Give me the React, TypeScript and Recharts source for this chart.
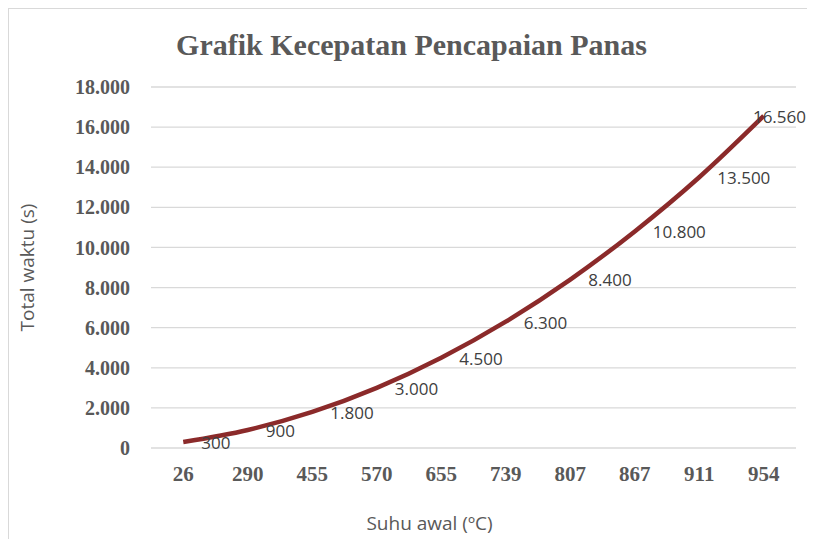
import React from "react";
import { LineChart, Line, XAxis, YAxis, CartesianGrid, LabelList, Label } from "recharts";

const categories = ["26", "290", "455", "570", "655", "739", "807", "867", "911", "954"];
const totalWaktu = [300, 900, 1800, 3000, 4500, 6300, 8400, 10800, 13500, 16560];
const yTicks = [0, 2000, 4000, 6000, 8000, 10000, 12000, 14000, 16000, 18000];

const data = categories.map((c, i) => ({ suhu: c, waktu: totalWaktu[i] }));

const fmt = (v: number) => v.toLocaleString("de-DE");

const CHART_W = 798;
const CHART_H = 530;

const DataLabel = (props: any) => {
  const { x, y, value } = props;
  const text = fmt(Number(value));
  const estW = text.length * 9;
  const limit = CHART_W - 1;
  let tx = x + 18;
  let anchor: "start" | "end" = "start";
  if (tx + estW > limit) {
    tx = limit;
    anchor = "end";
  }
  return (
    <text
      x={tx}
      y={y + 1}
      dy="0.35em"
      textAnchor={anchor}
      fontFamily="'Open Sans', sans-serif"
      fontSize={17}
      fill="#404040"
    >
      {text}
    </text>
  );
};

export default function App() {
  return (
    <div
      style={{
        position: "relative",
        width: CHART_W,
        height: CHART_H,
        borderLeft: "1px solid #d9d9d9",
        borderTop: "1px solid #d9d9d9",
        background: "#fff",
      }}
    >
      <div
        style={{
          position: "absolute",
          left: 0,
          top: 18,
          width: 805,
          textAlign: "center",
          fontFamily: "'Liberation Serif', 'Times New Roman', serif",
          fontWeight: "bold",
          fontSize: 30,
          color: "#595959",
          lineHeight: "36px",
        }}
      >
        Grafik Kecepatan Pencapaian Panas
      </div>
      <LineChart
        width={CHART_W}
        height={CHART_H}
        data={data}
        margin={{ top: 78, right: 11, left: 0, bottom: 0 }}
      >
        <CartesianGrid vertical={false} stroke="#d9d9d9" strokeWidth={1.3} />
        <XAxis
          dataKey="suhu"
          scale="band"
          height={91}
          axisLine={false}
          tickLine={false}
          tickSize={0}
          tickMargin={18}
          tick={{
            fill: "#595959",
            fontFamily: "'Liberation Serif', 'Times New Roman', serif",
            fontWeight: "bold",
            fontSize: 21,
          }}
        >
          <Label
            value="Suhu awal (ºC)"
            position="insideBottom"
            offset={9}
            dx={-44}
            fill="#595959"
            fontFamily="'Open Sans', sans-serif"
            fontSize={19}
          />
        </XAxis>
        <YAxis
          width={142}
          domain={[0, 18000]}
          ticks={yTicks}
          interval={0}
          axisLine={false}
          tickLine={false}
          tickSize={0}
          tickMargin={21}
          tickFormatter={fmt}
          tick={{
            fill: "#595959",
            fontFamily: "'Liberation Serif', 'Times New Roman', serif",
            fontWeight: "bold",
            fontSize: 20,
          }}
        >
          <Label
            value="Total waktu (s)"
            angle={-90}
            position="insideLeft"
            offset={18}
            fill="#595959"
            fontFamily="'Open Sans', sans-serif"
            fontSize={19}
            style={{ textAnchor: "middle" }}
          />
        </YAxis>
        <Line
          type="monotone"
          dataKey="waktu"
          stroke="#8B2A2A"
          strokeWidth={4.5}
          dot={false}
          isAnimationActive={false}
        >
          <LabelList dataKey="waktu" content={<DataLabel />} />
        </Line>
      </LineChart>
    </div>
  );
}
